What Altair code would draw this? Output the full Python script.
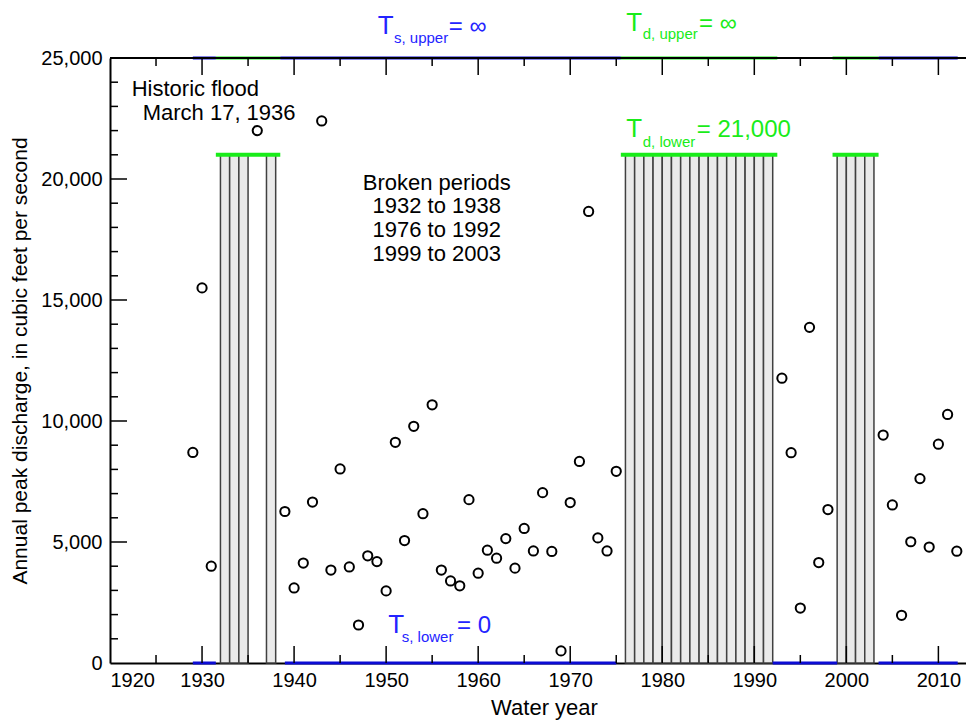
import altair as alt
import pandas as pd

FONT = "Liberation Sans, Arial, sans-serif"

# ---- data ----
years = [1929, 1930, 1931, 1936, 1939, 1940, 1941, 1942, 1943, 1944, 1945, 1946, 1947,
         1948, 1949, 1950, 1951, 1952, 1953, 1954, 1955, 1956, 1957, 1958, 1959, 1960,
         1961, 1962, 1963, 1964, 1965, 1966, 1967, 1968, 1969, 1970, 1971, 1972, 1973,
         1974, 1975, 1993, 1994, 1995, 1996, 1997, 1998, 2004, 2005, 2006, 2007, 2008,
         2009, 2010, 2011, 2012]
peaks = [8700, 15500, 4000, 22000, 6260, 3100, 4130, 6650, 22400, 3840, 8020, 3970, 1570,
         4430, 4190, 2980, 9120, 5060, 9780, 6170, 10670, 3840, 3390, 3190, 6750, 3710,
         4660, 4330, 5140, 3920, 5560, 4630, 7040, 4610, 500, 6630, 8330, 18660, 5170,
         4630, 7920, 11770, 8690, 2270, 13870, 4150, 6340, 9420, 6530, 1970, 5010, 7620,
         4790, 9040, 10270, 4620]

bar_starts = [1932, 1933, 1934, 1937] + list(range(1976, 1992)) + list(range(1999, 2003))
bar_ends = [1933, 1934, 1935, 1938] + list(range(1977, 1993)) + list(range(2000, 2004))
bar_top = 21000

seg_start = [1929, 1938.5, 2003.5, 1931.5, 1975.5, 1998.5, 1929, 1939, 1992, 2003.5,
             1931.5, 1975.5, 1998.5]
seg_end = [1931.5, 1975.5, 2012.1, 1938.5, 1992.5, 2003.5, 1931.5, 1975, 1999, 2012.1,
           1938.5, 1992.5, 2003.5]
seg_level = [25000, 25000, 25000, 25000, 25000, 25000, 0, 0, 0, 0, 21000, 21000, 21000]
seg_kind = ["s", "s", "s", "d", "d", "d", "s", "s", "s", "s", "d", "d", "d"]

x_tick_years = list(range(1925, 2015, 5))
y_tick_vals = list(range(1000, 25000, 1000))

ann_text = ["Historic flood", "March 17, 1936",
            "T", "s, upper", "= \u221e",
            "T", "d, upper", "= \u221e",
            "T", "d, lower", "= 21,000",
            "T", "s, lower", "= 0"]
ann_x = [1922.36, 1923.55,
         1949.1, 1950.85, 1956.8,
         1976.1, 1977.88, 1984.0,
         1976.1, 1977.88, 1983.75,
         1950.23, 1951.7, 1957.7]
ann_y = [23430, 22440,
         25978, 25640, 25978,
         26116, 25790, 26116,
         21748, 21330, 21748,
         1227, 880, 1227]
ann_size = [22, 22, 26, 15, 24, 26, 15, 24, 26, 15, 24, 26, 15, 24]
ann_kind = ["k", "k", "s", "s", "s", "d", "d", "d", "d", "d", "d", "s", "s", "s"]

center_text = ["Broken periods", "1932 to 1938", "1976 to 1992", "1999 to 2003"]
center_x = [1955.5, 1955.5, 1955.5, 1955.5]
center_y = [19554, 18605, 17615, 16625]

BLUE_LINE = "#0b0bd4"
BLUE_TEXT = "#2424ff"
GREEN = "#19ec19"

W, H = 856, 605

xs = alt.Scale(domain=[1920, 2013], nice=False, zero=False)
ys = alt.Scale(domain=[0, 25000], nice=False, zero=True)

pts = pd.DataFrame({"year": years, "peak": peaks})
bars = pd.DataFrame({"start": bar_starts, "end": bar_ends, "top": [bar_top] * len(bar_starts)})
segs = pd.DataFrame({"start": seg_start, "end": seg_end, "level": seg_level, "kind": seg_kind})
segs["color"] = [BLUE_LINE if k == "s" else GREEN for k in seg_kind]
segs["w"] = [3 if lv != 21000 else 4 for lv in seg_level]
xt = pd.DataFrame({"year": x_tick_years})
xt["major"] = [y % 10 == 0 for y in x_tick_years]
yt = pd.DataFrame({"v": y_tick_vals})
yt["major"] = [v % 5000 == 0 for v in y_tick_vals]
ann = pd.DataFrame({"x": ann_x, "y": ann_y, "text": ann_text, "size": ann_size, "kind": ann_kind})
ann["color"] = ["black" if k == "k" else (BLUE_TEXT if k == "s" else GREEN) for k in ann_kind]
cen = pd.DataFrame({"x": center_x, "y": center_y, "text": center_text})

x_axis = alt.Axis(values=list(range(1920, 2020, 10)), format="d", ticks=False, grid=False,
                  domainColor="black", domainWidth=2, labelFontSize=20, labelPadding=7,
                  labelColor="black", title="Water year", titleFontSize=22,
                  titleFontWeight="normal", titleX=434, titlePadding=7, titleColor="black")
y_axis = alt.Axis(values=list(range(0, 30000, 5000)), format=",d", ticks=False, grid=False,
                  domainColor="black", domainWidth=2, labelFontSize=20, labelPadding=8,
                  labelColor="black",
                  title="Annual peak discharge, in cubic feet per second", titleFontSize=21,
                  titleFontWeight="normal", titlePadding=10, titleColor="black")

X = lambda f: alt.X(f, scale=xs)
Y = lambda f: alt.Y(f, scale=ys)

bar_layer = alt.Chart(bars).mark_rect(fill="#eaeaea", stroke="#404040", strokeWidth=1.5).encode(
    x=alt.X("start:Q", scale=xs, axis=x_axis),
    x2="end:Q",
    y=alt.Y("top:Q", scale=ys, axis=y_axis),
    y2=alt.datum(0),
)

top_frame = alt.Chart(pd.DataFrame({"a": [1920], "b": [2013], "lv": [25000]})).mark_rule(
    color="black", strokeWidth=2).encode(x=X("a:Q"), x2="b:Q", y=Y("lv:Q"))

xt_major = alt.Chart(xt[xt.major]).mark_rule(color="black", strokeWidth=1.5)
xt_minor = alt.Chart(xt[~xt.major]).mark_rule(color="black", strokeWidth=1.5)
tick_layers = [
    xt_major.encode(x=X("year:Q"), y=alt.value(H - 17), y2=alt.value(H)),
    xt_minor.encode(x=X("year:Q"), y=alt.value(H - 8), y2=alt.value(H)),
    xt_major.encode(x=X("year:Q"), y=alt.value(0), y2=alt.value(17)),
    xt_minor.encode(x=X("year:Q"), y=alt.value(0), y2=alt.value(8)),
    alt.Chart(yt[yt.major]).mark_rule(color="black", strokeWidth=1.5).encode(
        y=Y("v:Q"), x=alt.value(0), x2=alt.value(17)),
    alt.Chart(yt[~yt.major]).mark_rule(color="black", strokeWidth=1.5).encode(
        y=Y("v:Q"), x=alt.value(0), x2=alt.value(8)),
]

seg_layer = alt.Chart(segs).mark_rule().encode(
    x=X("start:Q"), x2="end:Q",
    y=Y("level:Q"),
    color=alt.Color("color:N", scale=None, legend=None),
    strokeWidth=alt.StrokeWidth("w:Q", scale=None, legend=None),
)

pt_layer = alt.Chart(pts).mark_point(shape="circle", filled=False, color="black",
                                     strokeWidth=2, size=85, opacity=1).encode(
    x=X("year:Q"), y=Y("peak:Q"))

ann_layer = alt.Chart(ann).mark_text(align="left", baseline="alphabetic").encode(
    x=X("x:Q"), y=Y("y:Q"),
    text="text:N",
    size=alt.Size("size:Q", scale=None, legend=None),
    color=alt.Color("color:N", scale=None, legend=None),
)
cen_layer = alt.Chart(cen).mark_text(align="center", baseline="alphabetic", fontSize=22,
                                     color="black").encode(
    x=X("x:Q"), y=Y("y:Q"), text="text:N")

chart = alt.layer(bar_layer, seg_layer, top_frame, *tick_layers, pt_layer, ann_layer,
                  cen_layer).properties(
    width=W, height=H,
    autosize=alt.AutoSizeParams(type="none"),
    padding={"left": 110, "top": 58, "right": 0, "bottom": 58},
).configure(font=FONT).configure_view(stroke=None).configure_axis(
    labelFont=FONT, titleFont=FONT)

chart.save("out.html", embed_options={"renderer": "svg", "actions": False})
